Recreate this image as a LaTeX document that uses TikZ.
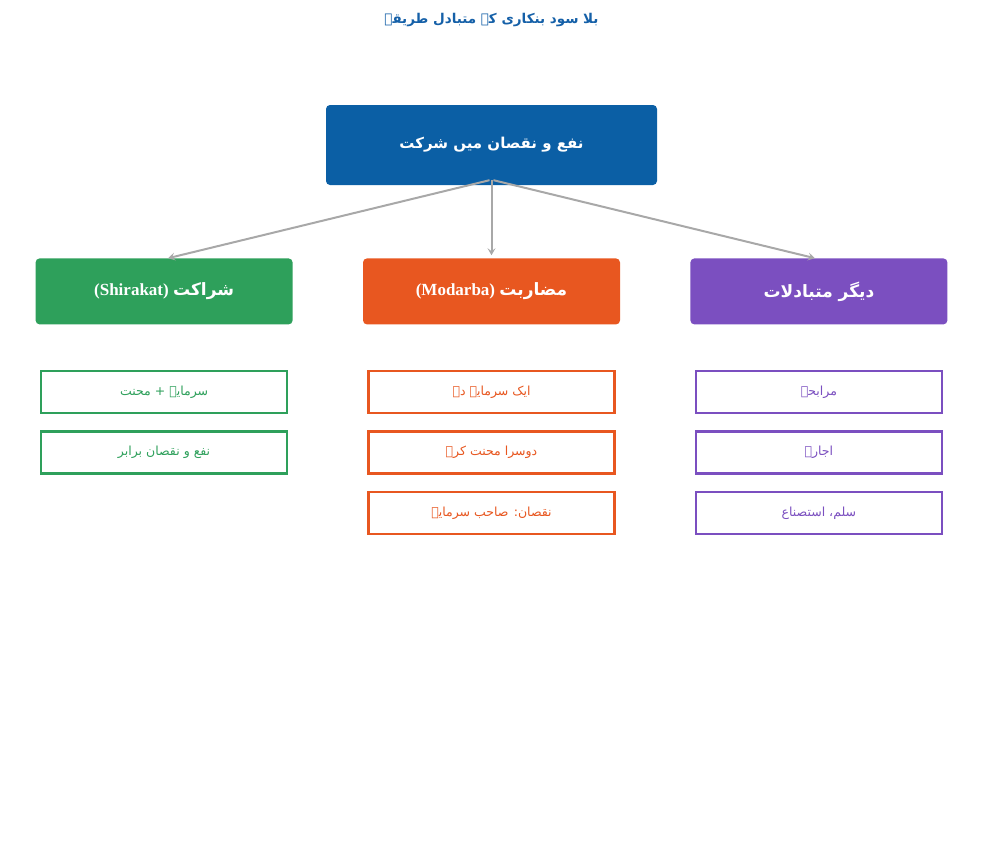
\documentclass[tikz,border=0pt]{standalone}
\usepackage{fontspec}
\setmainfont{Liberation Serif}
\newfontfamily\urdufont[Script=Arabic]{DejaVu Sans}
\TeXXeTstate=1
\usetikzlibrary{shapes, arrows, arrows.meta, positioning, calc}
\definecolor{rootblue}{HTML}{0B5FA5}
\definecolor{titleblue}{HTML}{1560A8}
\definecolor{shirakatgreen}{HTML}{2EA05B}
\definecolor{modarbaorange}{HTML}{E85720}
\definecolor{otherpurple}{HTML}{7B4FC0}
\definecolor{arrowgray}{HTML}{A8A8A8}
\newcommand{\ur}[1]{{\urdufont\beginR #1\endR}}

\begin{document}
\begin{tikzpicture}[x=1pt, y=1pt, node distance=16pt]
  \tikzstyle{root} = [rectangle, rounded corners=4pt, minimum width=331pt, minimum height=80pt, text centered, fill=rootblue, text=white, font=\fontsize{15}{18}\selectfont\bfseries]
  \tikzstyle{branch} = [rectangle, rounded corners=4pt, minimum width=257pt, minimum height=66pt, text centered, text=white, font=\fontsize{17}{20}\selectfont\bfseries]
  \tikzstyle{leaf} = [rectangle, minimum width=246pt, minimum height=42pt, text centered, line width=2.5pt, fill=white, font=\fontsize{12.5}{15}\selectfont]
  \tikzstyle{arrow} = [line width=2pt, ->, >={Stealth[length=7pt, width=8pt, inset=3pt]}, draw=arrowgray]
  \useasboundingbox (0,0) rectangle (983,-857);
  \node (title) [text=titleblue, font=\fontsize{13.5}{16}\selectfont\bfseries] at (491.5,-20) {\ur{بلا سود بنکاری کے متبادل طریقے}};
  \node (root) [root] at (491.5,-145) {\ur{نفع و نقصان میں شرکت}};
  \node (modarba) [branch, fill=modarbaorange, below=73pt of root] {(Modarba) \ur{مضاربت}};
  \node (shirakat) [branch, fill=shirakatgreen, left=70pt of modarba] {(Shirakat) \ur{شراکت}};
  \node (others) [branch, fill=otherpurple, right=70pt of modarba] {\ur{دیگر متبادلات}};
  % shirakat
  \node (capital) [leaf, draw=shirakatgreen, text=shirakatgreen, below=45pt of shirakat] {\ur{سرمایہ + محنت}};
  \node (equal) [leaf, draw=shirakatgreen, text=shirakatgreen, below=of capital] {\ur{نفع و نقصان برابر}};
  % modarba
  \node (investor) [leaf, draw=modarbaorange, text=modarbaorange, below=45pt of modarba] {\ur{ایک سرمایہ دے}};
  \node (worker) [leaf, draw=modarbaorange, text=modarbaorange, below=of investor] {\ur{دوسرا محنت کرے}};
  \node (loss) [leaf, draw=modarbaorange, text=modarbaorange, below=of worker] {\ur{نقصان: صاحب سرمایہ}};
  % others
  \node (murabaha) [leaf, draw=otherpurple, text=otherpurple, below=45pt of others] {\ur{مرابحہ}};
  \node (ijara) [leaf, draw=otherpurple, text=otherpurple, below=of murabaha] {\ur{اجارہ}};
  \node (salam) [leaf, draw=otherpurple, text=otherpurple, below=of ijara] {\ur{سلم، استصناع}};
  \draw [arrow] ([xshift=-2pt, yshift=5pt]root.south) -- ([xshift=4pt]shirakat.north);
  \draw [arrow] ([yshift=5pt]root.south) -- ([yshift=3pt]modarba.north);
  \draw [arrow] ([xshift=2pt, yshift=5pt]root.south) -- ([xshift=-4pt]others.north);
\end{tikzpicture}
\end{document}
